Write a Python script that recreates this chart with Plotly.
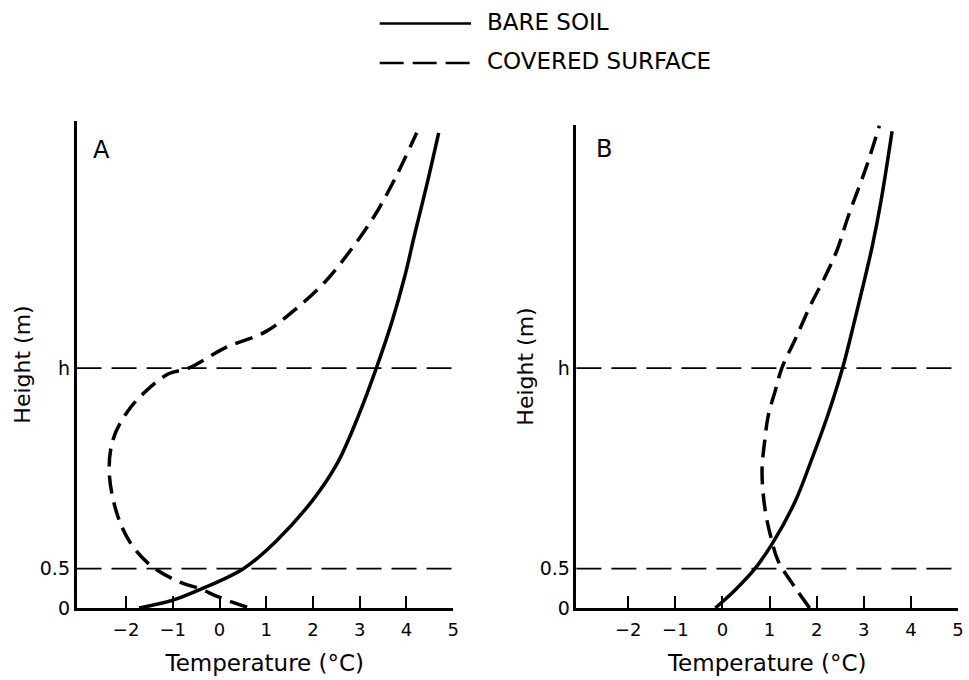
import plotly.graph_objects as go

# ---------------- data (temperature °C, height in axis units; h = 3.05) ----------------
H_LEVEL = 3.05
REF_LEVELS = [0.5, H_LEVEL]
Y_TICKVALS = [0, 0.5, H_LEVEL]
Y_TICKTEXT = ["0", "0.5", "h"]
X_TICKVALS = [-2, -1, 0, 1, 2, 3, 4, 5]

# Panel A
a_bare_t = [-1.72, -1.0, -0.40, 0.51, 1.21, 2.02, 2.53, 2.97, 3.35, 3.69, 3.97, 4.18, 4.44, 4.69]
a_bare_h = [0.0, 0.10, 0.24, 0.50, 0.85, 1.39, 1.85, 2.44, 3.04, 3.64, 4.23, 4.76, 5.39, 6.04]
a_cov_t = [0.59, -0.02, -0.40, -0.93, -1.51, -1.93, -2.21, -2.36, -2.28, -1.99, -1.57,
           -1.08, -0.66, 0.13, 0.98, 1.55, 2.25, 2.82, 3.31, 3.74, 4.22]
a_cov_h = [0.01, 0.14, 0.24, 0.35, 0.56, 0.85, 1.23, 1.73, 2.14, 2.48, 2.76,
           2.98, 3.05, 3.31, 3.51, 3.76, 4.14, 4.56, 4.98, 5.44, 6.04]

# Panel B
b_bare_t = [-0.15, 0.27, 0.69, 1.07, 1.54, 1.87, 2.23, 2.55, 2.80, 3.01, 3.18, 3.37, 3.60]
b_bare_h = [0.0, 0.23, 0.50, 0.83, 1.35, 1.85, 2.44, 3.05, 3.64, 4.16, 4.60, 5.19, 6.06]
b_cov_t = [1.85, 1.54, 1.18, 1.05, 0.91, 0.84, 0.90, 0.97, 1.12, 1.26, 1.54, 1.89, 2.17, 2.44, 2.67, 3.05, 3.33]
b_cov_h = [0.0, 0.26, 0.60, 0.85, 1.23, 1.73, 2.14, 2.44, 2.76, 3.05, 3.41, 3.875, 4.20, 4.56, 4.98, 5.60, 6.13]

SERIES_NAMES = ["BARE SOIL", "COVERED SURFACE"]
PANEL_LABELS = ["A", "B"]
X_TITLE = "Temperature (°C)"
Y_TITLE = "Height (m)"

FONT = "DejaVu Sans"
CURVE_W = 3.5
CURVE_DASH = "18px,9px"
REF_DASH = "25px,10px"
SMOOTH = 1.0

fig = go.Figure()

def add_panel(xa, ya, bt, bh, ct, ch):
    fig.add_trace(go.Scatter(x=bt, y=bh, mode="lines", xaxis=xa, yaxis=ya, name=SERIES_NAMES[0],
                             line=dict(color="black", width=CURVE_W, shape="spline", smoothing=SMOOTH),
                             showlegend=False, hoverinfo="skip"))
    fig.add_trace(go.Scatter(x=ct, y=ch, mode="lines", xaxis=xa, yaxis=ya, name=SERIES_NAMES[1],
                             line=dict(color="black", width=CURVE_W, shape="spline", smoothing=SMOOTH,
                                       dash=CURVE_DASH),
                             showlegend=False, hoverinfo="skip"))

add_panel("x", "y", a_bare_t, a_bare_h, a_cov_t, a_cov_h)
add_panel("x2", "y2", b_bare_t, b_bare_h, b_cov_t, b_cov_h)

# horizontal reference dashed lines at 0.5 and h
for xr, yr in [("x domain", "y"), ("x2 domain", "y2")]:
    for lvl in REF_LEVELS:
        fig.add_shape(type="line", xref=xr, yref=yr, x0=0, x1=1, y0=lvl, y1=lvl,
                      line=dict(color="black", width=1.8, dash=REF_DASH), layer="below")

xaxis_common = dict(tickvals=X_TICKVALS, ticks="inside", ticklen=12, tickwidth=2,
                    tickcolor="black", showline=True, linecolor="black", linewidth=2.5,
                    showgrid=False, zeroline=False, ticklabelstandoff=4,
                    tickfont=dict(family=FONT, size=18, color="black"),
                    title=dict(text=X_TITLE, font=dict(family=FONT, size=23, color="black"), standoff=16))
yaxis_common = dict(tickvals=Y_TICKVALS, ticktext=Y_TICKTEXT, ticks="", showline=True,
                    linecolor="black", linewidth=2.5, showgrid=False, zeroline=False,
                    tickfont=dict(family=FONT, size=19, color="black"))

fig.update_layout(
    width=969, height=680,
    margin=dict(l=0, r=0, t=0, b=0),
    paper_bgcolor="white", plot_bgcolor="white",
    showlegend=False,
    xaxis=dict(xaxis_common, domain=[77/969, 456/969], range=[-3.06, 5.0]),
    xaxis2=dict(xaxis_common, domain=[580/969, 964/969], range=[-3.1, 5.0], anchor="y2"),
    yaxis=dict(yaxis_common, domain=[1-618/680, 1-123/680], range=[0, 6.19], anchor="x",
               title=dict(text=Y_TITLE, font=dict(family=FONT, size=22, color="black"), standoff=4)),
    yaxis2=dict(yaxis_common, domain=[1-618/680, 1-127/680], range=[0, 6.14], anchor="x2",
                title=dict(text=Y_TITLE, font=dict(family=FONT, size=22, color="black"), standoff=0)),
)

# panel letters
for lbl, xr, yr, xv, yv in [(PANEL_LABELS[0], "x domain", "y domain", 0.066, 0.941),
                             (PANEL_LABELS[1], "x2 domain", "y2 domain", 0.071, 0.951)]:
    fig.add_annotation(text=lbl, xref=xr, yref=yr, x=xv, y=yv, showarrow=False,
                       xanchor="center", yanchor="middle",
                       font=dict(family=FONT, size=24, color="black"))

# manual legend (keys + labels)
leg_rows = [(SERIES_NAMES[0], None, 24), (SERIES_NAMES[1], "24px,9px", 64)]
for name, dash, ypx in leg_rows:
    ln = dict(color="black", width=2.5)
    if dash:
        ln["dash"] = dash
    fig.add_shape(type="line", xref="paper", yref="paper", x0=382/969, x1=474/969,
                  y0=1-ypx/680, y1=1-ypx/680, line=ln)
    fig.add_annotation(text=name, xref="paper", yref="paper", x=488/969, y=1-(ypx-2)/680,
                       xanchor="left", yanchor="middle", showarrow=False,
                       font=dict(family=FONT, size=23, color="black"))

fig.write_html("out.html")
